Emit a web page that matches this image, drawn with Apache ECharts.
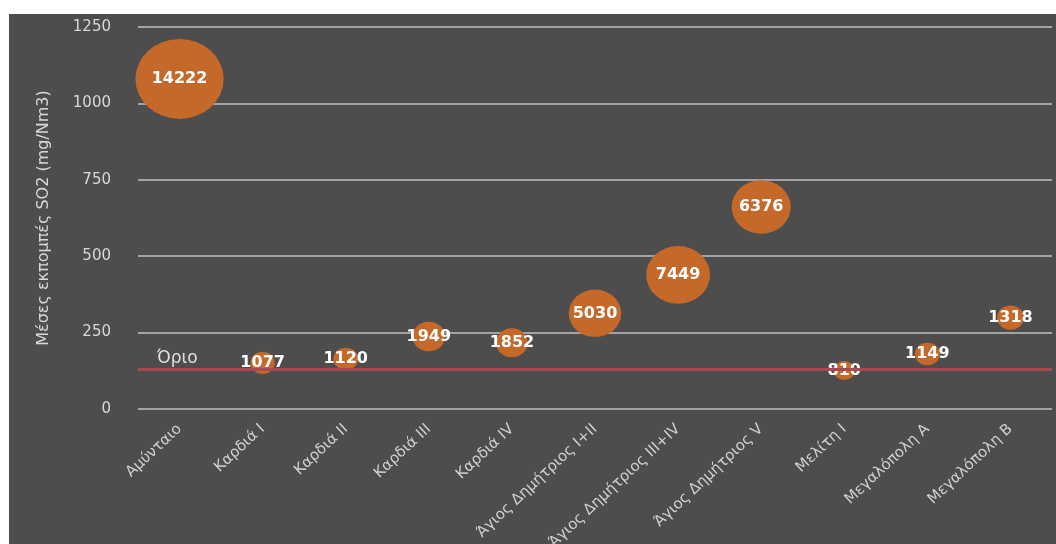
<!DOCTYPE html>
<html>
<head>
<meta charset="utf-8">
<script src="https://cdn.jsdelivr.net/npm/echarts@6/dist/echarts.min.js"></script>
<style>
html,body{margin:0;padding:0;background:#ffffff;width:1056px;height:544px;overflow:hidden;}
#chart{position:absolute;left:9px;top:14px;width:1047px;height:530px;}
</style>
</head>
<body>
<div id="chart"></div>
<script>
const categories = ['Αμύνταιο','Καρδιά I','Καρδιά II','Καρδιά III','Καρδιά IV','Άγιος Δημήτριος I+II','Άγιος Δημήτριος III+IV','Άγιος Δημήτριος V','Μελίτη I','Μεγαλόπολη Α','Μεγαλόπολη Β'];
const emissions = [1080, 151, 164, 237, 217, 313, 439, 661, 126, 180, 299];
const bubbleSizes = [14222, 1077, 1120, 1949, 1852, 5030, 7449, 6376, 810, 1149, 1318];
const limitValue = 130;
const yTicks = {min: 0, max: 1250, interval: 250};

const data = categories.map((c, i) => [c, emissions[i], bubbleSizes[i]]);
const FONT = 'DejaVu Sans, Verdana, sans-serif';

const chart = echarts.init(document.getElementById('chart'));
chart.setOption({
  backgroundColor: '#4d4d4d',
  animation: false,
  grid: {left: 129, right: 4, top: 13, bottom: 135, containLabel: false, outerBoundsMode: 'none'},
  xAxis: {
    type: 'category',
    data: categories,
    boundaryGap: true,
    axisLine: {show: false},
    axisTick: {show: false},
    splitLine: {show: false},
    axisLabel: {
      rotate: 43,
      interval: 0,
      margin: 18,
      color: '#d0d0d0',
      fontSize: 15,
      fontFamily: FONT
    }
  },
  yAxis: {
    type: 'value',
    min: yTicks.min,
    max: yTicks.max,
    interval: yTicks.interval,
    name: 'Μέσες εκπομπές SO2 (mg/Nm3)',
    nameLocation: 'middle',
    nameGap: 86,
    nameTextStyle: {color: '#d8d8d8', fontSize: 16, fontFamily: FONT},
    axisLine: {show: false},
    axisTick: {show: false},
    axisLabel: {
      color: '#d8d8d8', fontSize: 15, margin: 27, fontFamily: FONT,
      formatter: v => String(v)
    },
    splitLine: {show: true, lineStyle: {color: '#a3a3a3', width: 2}}
  },
  series: [{
    type: 'scatter',
    data: data,
    encode: {x: 0, y: 1},
    symbol: 'circle',
    symbolSize: function (val) {
      const s = Math.sqrt(val[2]);
      return [s * 0.74, s * 0.67];
    },
    itemStyle: {color: '#c4692a', opacity: 1},
    label: {
      show: true,
      position: 'inside',
      formatter: p => String(p.value[2]),
      color: '#ffffff',
      fontSize: 16,
      fontWeight: 'bold',
      fontFamily: FONT
    },
    markLine: {
      silent: true,
      symbol: 'none',
      data: [{yAxis: limitValue}],
      lineStyle: {color: '#a84a50', width: 3, type: 'solid'},
      label: {
        show: true,
        position: 'insideStartTop',
        formatter: 'Όριο',
        color: '#e0e0e0',
        fontSize: 17,
        distance: [19, 2],
        fontFamily: FONT
      }
    }
  }]
});
</script>
</body>
</html>
